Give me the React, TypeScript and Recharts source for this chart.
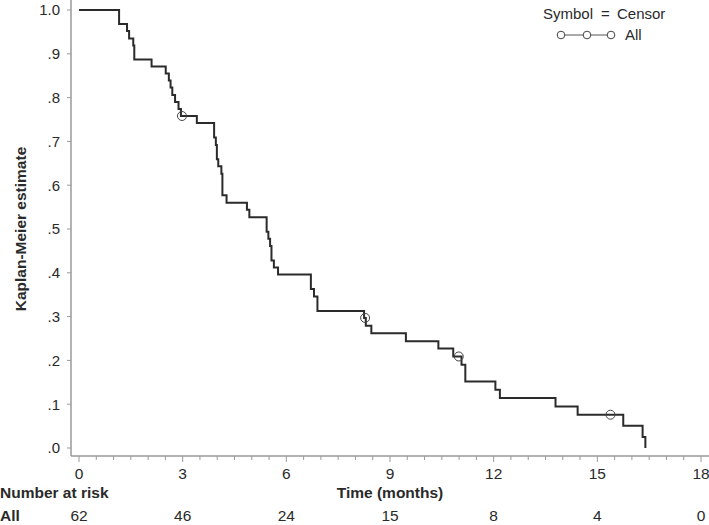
import { ComposedChart, Line, Scatter, XAxis, YAxis } from "recharts";

// Kaplan-Meier step points (time in months, survival estimate)
const eventTimes = [
  0, 1.16, 1.39, 1.45, 1.57, 1.6, 2.1, 2.51, 2.6, 2.65, 2.7, 2.78, 2.88, 2.95,
  3.41, 3.91, 3.96, 3.99, 4.03, 4.12, 4.15, 4.27, 4.86, 4.93, 5.43, 5.48, 5.53,
  5.57, 5.64, 5.76, 6.71, 6.8, 6.9, 8.25, 8.3, 8.46, 9.46, 10.4, 10.83, 11.07,
  11.18, 12.05, 12.18, 13.79, 14.43, 15.75, 16.31, 16.39,
];
const survival = [
  1.0, 0.968, 0.952, 0.935, 0.919, 0.887, 0.871, 0.855, 0.839, 0.823, 0.806,
  0.79, 0.774, 0.758, 0.742, 0.709, 0.692, 0.659, 0.643, 0.626, 0.577, 0.56,
  0.544, 0.527, 0.494, 0.478, 0.461, 0.428, 0.412, 0.396, 0.363, 0.346, 0.313,
  0.297, 0.279, 0.262, 0.244, 0.227, 0.209, 0.19, 0.152, 0.133, 0.114, 0.095,
  0.076, 0.051, 0.025, 0.0,
];

// censored observations
const censorTimes = [2.98, 8.28, 10.99, 15.38];
const censorSurvival = [0.758, 0.297, 0.209, 0.076];

// axes
const majorTicks = [0, 3, 6, 9, 12, 15, 18];
const minorTicks = Array.from({ length: 37 }, (_, i) => i * 0.5);
const yTicks = [0, 0.1, 0.2, 0.3, 0.4, 0.5, 0.6, 0.7, 0.8, 0.9, 1.0];

// number at risk table
const riskTimes = [0, 3, 6, 9, 12, 15, 18];
const riskCounts = [62, 46, 24, 15, 8, 4, 0];

const kmData = eventTimes.map((t, i) => ({ t, s: survival[i] }));
const censorData = censorTimes.map((t, i) => ({ t, s: censorSurvival[i] }));

const FONT = "'Liberation Sans', Arial, Helvetica, sans-serif";
const TEXT = "#2a2a2a";
const AXIS = "#9a9a9a";

const fmtY = (v: number) => (v >= 1 ? "1.0" : "." + Math.round(v * 10));

// x tick: tick line + label, plus the number at risk underneath the major ticks
function TimeTick(props: any) {
  const { x, y, payload } = props;
  const v = payload.value;
  const major = majorTicks.includes(v);
  const ri = riskTimes.indexOf(v);
  return (
    <g>
      <line x1={x} x2={x} y1={y} y2={y + (major ? 6 : 4)} stroke={AXIS} strokeWidth={1} />
      {major && (
        <text x={x} y={y + 23} textAnchor="middle" fontFamily={FONT} fontSize={15.5} fill={TEXT}>
          {v}
        </text>
      )}
      {ri >= 0 && (
        <text x={x} y={y + 65} textAnchor="middle" fontFamily={FONT} fontSize={15.5} fill={TEXT}>
          {riskCounts[ri]}
        </text>
      )}
    </g>
  );
}

function CensorMark(props: any) {
  const { cx, cy } = props;
  if (cx == null || cy == null) return null;
  return <circle cx={cx} cy={cy} r={4.5} fill="none" stroke="#444" strokeWidth={1} />;
}

function YLabel() {
  return (
    <text
      x={26}
      y={229}
      transform="rotate(-90, 26, 229)"
      textAnchor="middle"
      fontFamily={FONT}
      fontWeight="bold"
      fontSize={15.5}
      fill={TEXT}
    >
      Kaplan-Meier estimate
    </text>
  );
}

function XLabel(props: any) {
  const vb = props.viewBox || {};
  return (
    <text
      x={vb.x + vb.width / 2}
      y={498}
      textAnchor="middle"
      fontFamily={FONT}
      fontWeight="bold"
      fontSize={15.5}
      fill={TEXT}
    >
      Time (months)
    </text>
  );
}

export default function App() {
  return (
    <div style={{ position: "relative", width: 709, height: 525 }}>
      <style>{"body{margin:0}"}</style>
      <ComposedChart
        width={709}
        height={525}
        margin={{ top: 0, right: 0, bottom: 0, left: 0 }}
      >
        <XAxis
          dataKey="t"
          type="number"
          domain={[0, 18]}
          ticks={minorTicks}
          interval={0}
          padding={{ left: 8, right: 8 }}
          height={69}
          tickSize={0}
          tickMargin={0}
          axisLine={{ stroke: AXIS, strokeWidth: 1.5 }}
          tickLine={false}
          tick={<TimeTick />}
          label={<XLabel />}
        />
        <YAxis
          dataKey="s"
          type="number"
          domain={[0, 1]}
          ticks={yTicks}
          tickFormatter={fmtY}
          interval={0}
          width={71}
          padding={{ top: 10, bottom: 8 }}
          tickSize={4}
          tickMargin={7}
          axisLine={{ stroke: AXIS, strokeWidth: 1.5 }}
          tickLine={{ stroke: AXIS }}
          tick={{ fill: TEXT, fontSize: 15, fontFamily: FONT }}
          label={<YLabel />}
        />
        <Line
          data={kmData}
          dataKey="s"
          type="stepAfter"
          stroke="#2b2b2b"
          strokeWidth={2}
          dot={false}
          activeDot={false}
          isAnimationActive={false}
        />
        <Scatter
          data={censorData}
          dataKey="s"
          shape={<CensorMark />}
          isAnimationActive={false}
        />
      </ComposedChart>
      <svg
        width={709}
        height={525}
        style={{ position: "absolute", left: 0, top: 0, pointerEvents: "none" }}
      >
        <g fontFamily={FONT} fontSize={15} fill={TEXT}>
          <text x={543} y={19}>Symbol</text>
          <text x={601} y={19}>=</text>
          <text x={617} y={19}>Censor</text>
          <line x1={557} x2={615} y1={35} y2={35} stroke="#555" strokeWidth={1} />
          {[561, 587, 611].map((cx) => (
            <circle key={cx} cx={cx} cy={35} r={3.8} fill="#fff" stroke="#444" strokeWidth={1} />
          ))}
          <text x={625} y={40}>All</text>
          <text x={0} y={498} fontWeight="bold" fontSize={15.5}>Number at risk</text>
          <text x={0} y={521} fontWeight="bold" fontSize={15.5}>All</text>
        </g>
      </svg>
    </div>
  );
}
